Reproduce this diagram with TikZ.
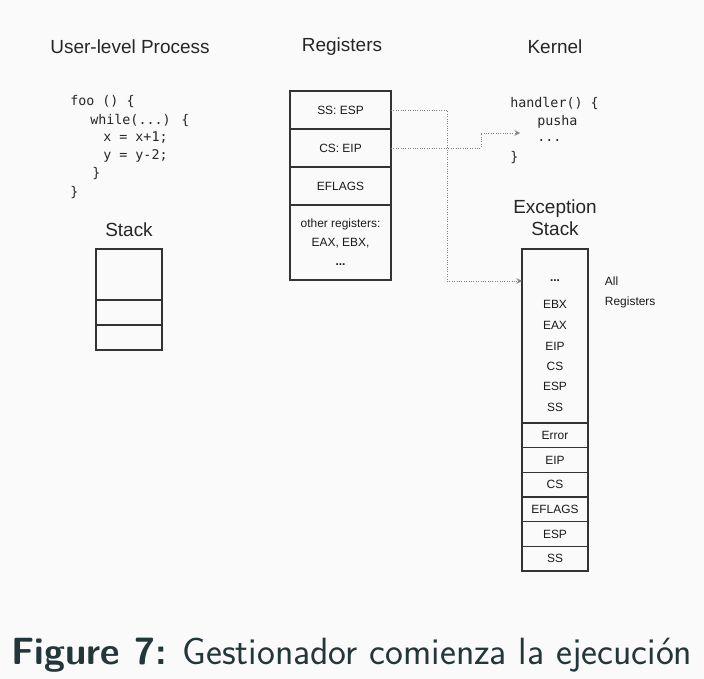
\documentclass[tikz,border=0pt]{standalone}
\usepackage{fontspec}
\usepackage{xcolor}
\usepackage{tikz}
\usetikzlibrary{arrows, arrows.meta, positioning, calc}

\newfontfamily\diagfont{Liberation Sans}
\newfontfamily\codefont{DejaVu Sans Mono}
\definecolor{pagebg}{HTML}{FAFAFA}
\definecolor{captxt}{HTML}{23373B}

\begin{document}
\begin{tikzpicture}[
    title/.style={font=\diagfont\fontsize{13.5}{16}\selectfont, text=black!85},
    code/.style={anchor=west, inner sep=0pt, font=\codefont\fontsize{9.5}{12}\selectfont, text=black!85},
    cell/.style={draw=black!80, line width=1.1pt, minimum width=2.525cm, outer sep=0pt, align=center, text=black!90, font=\diagfont\fontsize{8.5}{13.5}\selectfont},
    slot/.style={draw=black!80, line width=1.1pt, minimum width=1.65cm, outer sep=0pt, align=center, text=black!90, font=\diagfont\fontsize{8.5}{11}\selectfont},
    reg/.style={font=\diagfont\fontsize{8.5}{11}\selectfont, text=black!90},
    link/.style={->, >=stealth, densely dotted, gray, line width=0.7pt}
]
    \fill[pagebg] (0,0) rectangle (17.6,-16.975);

    % column titles
    \node[title] (usertitle) at (3.25,-1.175) {User-level Process};
    \node[title] (regtitle) at (8.55,-1.175) {Registers};
    \node[title] (kerntitle) at (13.875,-1.175) {Kernel};

    % user code
    \node[code] (foo) at (1.75,-2.55) {foo () \{};
    \node[code] (loop) at (2.25,-3.0) {while(...) \{};
    \node[code] (incx) at (2.575,-3.45) {x = x+1;};
    \node[code] (decy) at (2.575,-3.9) {y = y-2;};
    \node[code] (endloop) at (2.3,-4.35) {\}};
    \node[code] (endfoo) at (1.75,-4.825) {\}};

    % kernel code
    \node[code] (handler) at (12.75,-2.575) {handler() \{};
    \node[code] (pusha) at (13.425,-3.05) {pusha};
    \node[code] (kdots) at (13.425,-3.525) {...};
    \node[code] (endhandler) at (12.75,-3.95) {\}};

    % registers
    \node[cell, minimum height=0.95cm, anchor=north] (ssesp) at (8.5125,-2.275) {SS: ESP};
    \node[cell, minimum height=0.95cm, below=0pt of ssesp] (cseip) {CS: EIP};
    \node[cell, minimum height=0.95cm, below=0pt of cseip] (eflags) {EFLAGS};
    \node[cell, minimum height=1.875cm, below=0pt of eflags] (others) {other registers:\\EAX, EBX,\\\textbf{...}};

    % user stack
    \node[title] (stacktitle) at (3.225,-5.75) {Stack};
    \node[slot, minimum height=1.275cm, anchor=north] (ustack1) at (3.225,-6.225) {};
    \node[slot, minimum height=0.625cm, below=0pt of ustack1] (ustack2) {};
    \node[slot, minimum height=0.625cm, below=0pt of ustack2] (ustack3) {};

    % exception stack
    \node[title, align=center] (exctitle) at (13.875,-5.4375) {Exception\\Stack};
    \node[slot, minimum height=4.35cm, anchor=north] (allregs) at (13.875,-6.225) {};
    \node[reg] (xdots) at (13.875,-7.025) {\textbf{...}};
    \node[reg] (xebx) at (13.875,-7.6) {EBX};
    \node[reg] (xeax) at (13.875,-8.125) {EAX};
    \node[reg] (xeip) at (13.875,-8.65) {EIP};
    \node[reg] (xcs) at (13.875,-9.15) {CS};
    \node[reg] (xesp) at (13.875,-9.65) {ESP};
    \node[reg] (xss) at (13.875,-10.175) {SS};
    \node[slot, minimum height=0.617cm, below=0pt of allregs] (error) {Error};
    \node[slot, minimum height=0.617cm, below=0pt of error] (seip) {EIP};
    \node[slot, minimum height=0.617cm, below=0pt of seip] (scs) {CS};
    \node[slot, minimum height=0.617cm, below=0pt of scs] (seflags) {EFLAGS};
    \node[slot, minimum height=0.617cm, below=0pt of seflags] (sesp) {ESP};
    \node[slot, minimum height=0.617cm, below=0pt of sesp] (sss) {SS};
    \node[reg, anchor=west] (allnote) at (15.0,-7.025) {All};
    \node[reg, anchor=west] (regnote) at (15.0,-7.55) {Registers};

    % connectors
    \coordinate (entry) at (13.0,-3.325);
    \draw[link] (ssesp.east) -- ++(1.4,0) |- (allregs.west |- xdots);
    \draw[link] (cseip.east) -- ++(2.25,0) |- (entry);

    % caption
    \node[font=\sffamily\fontsize{27}{32}\selectfont, text=captxt] (caption) at (8.8,-16.375) {\textbf{Figure 7:} Gestionador comienza la ejecución};
\end{tikzpicture}
\end{document}
